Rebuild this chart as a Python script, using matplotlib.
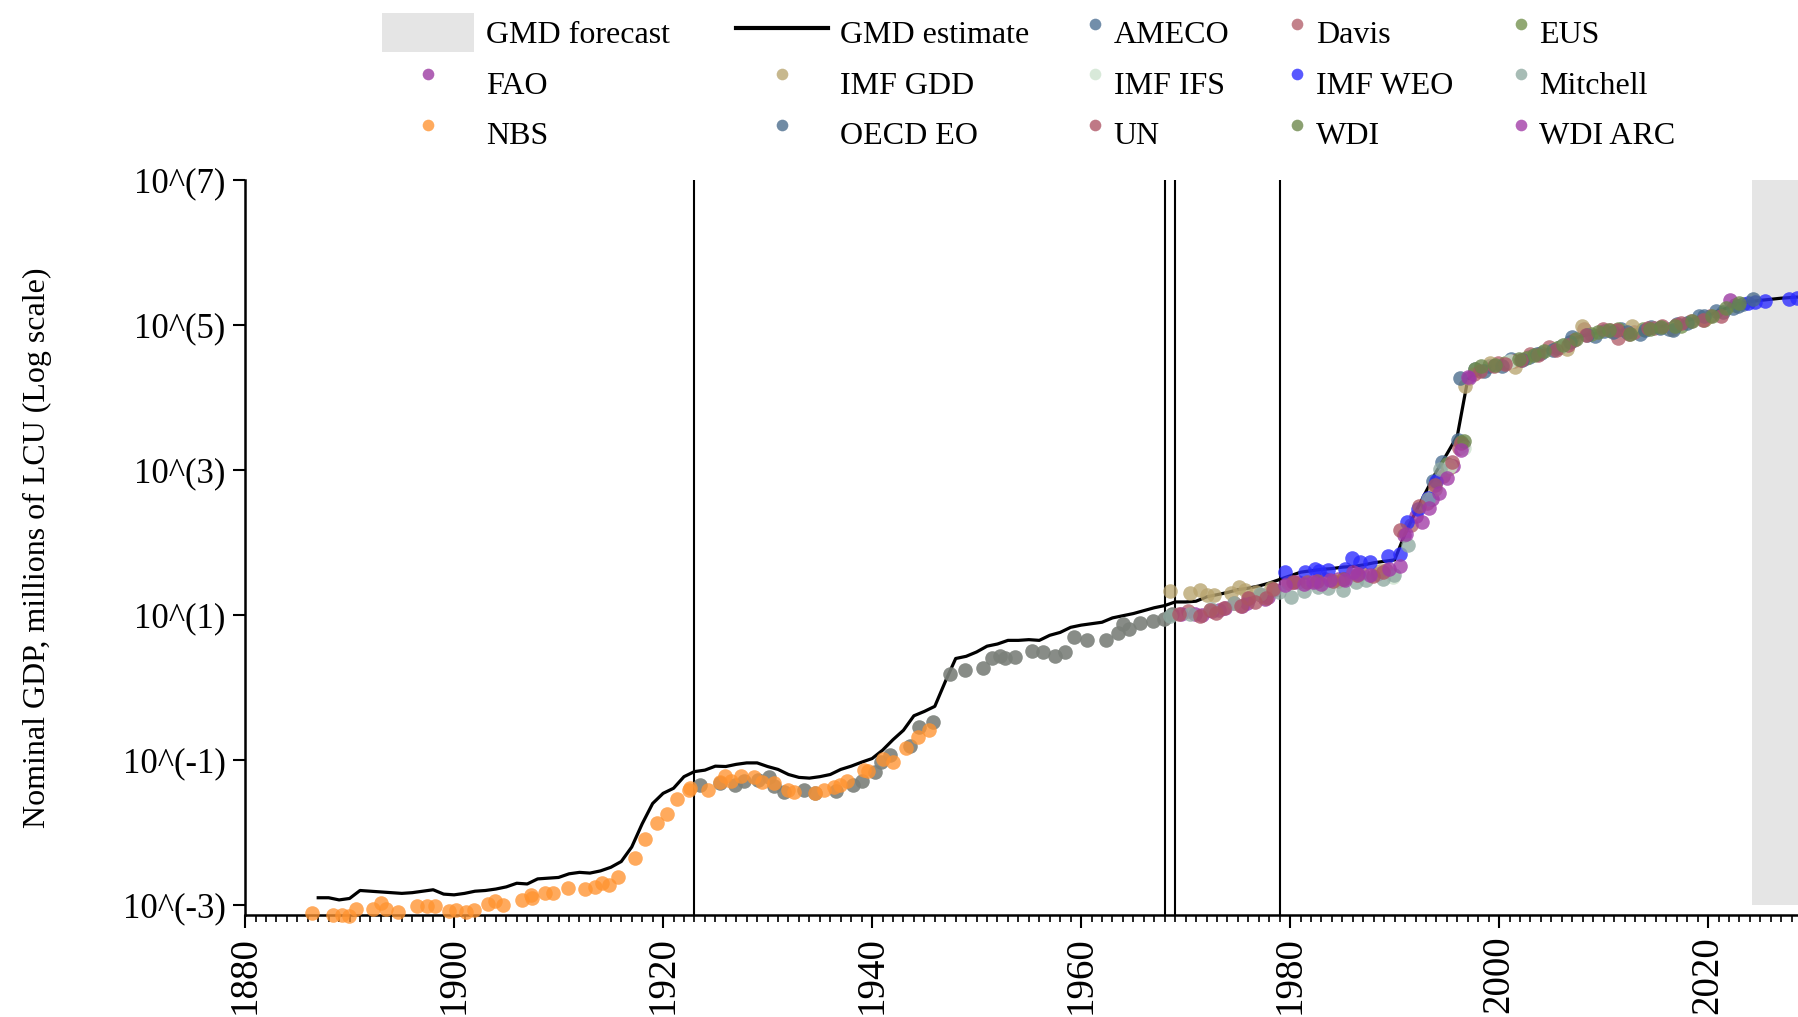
import matplotlib.pyplot as plt
import numpy as np
from matplotlib.patches import Patch
from matplotlib.lines import Line2D

plt.rcParams['font.family'] = ['Liberation Serif', 'DejaVu Serif']

# GMD estimate, log10 of nominal GDP (millions of LCU), from 1887 on
gmd_start = 1887
gmd_log = [-2.90, -2.90, -2.93, -2.91, -2.80, -2.81, -2.82, -2.83, -2.84, -2.83,
           -2.81, -2.79, -2.85, -2.86, -2.84, -2.81, -2.80, -2.78, -2.75, -2.70,
           -2.71, -2.64, -2.63, -2.62, -2.57, -2.55, -2.56, -2.53, -2.48, -2.40,
           -2.20, -1.88, -1.60, -1.46, -1.39, -1.23, -1.16, -1.14, -1.085, -1.09,
           -1.06, -1.04, -1.04, -1.09, -1.13, -1.20, -1.24, -1.25, -1.23, -1.20,
           -1.13, -1.085, -1.03, -0.98, -0.865, -0.72, -0.59, -0.39, -0.33, -0.26,
           0.08, 0.40, 0.43, 0.49, 0.57, 0.60, 0.65, 0.65, 0.66, 0.65,
           0.72, 0.76, 0.83, 0.86, 0.88, 0.90, 0.96, 0.99, 1.02, 1.06,
           1.10, 1.13, 1.18, 1.18, 1.19, 1.25, 1.28, 1.31, 1.35, 1.37,
           1.40, 1.44, 1.49, 1.54, 1.59, 1.61, 1.63, 1.64, 1.66, 1.67,
           1.69, 1.72, 1.74, 1.76, 2.12, 2.42, 2.70, 2.98, 3.22, 3.47,
           4.25, 4.39, 4.42, 4.46, 4.51, 4.55, 4.58, 4.64, 4.67, 4.74,
           4.81, 4.85, 4.88, 4.91, 4.92, 4.93, 4.93, 4.94, 4.97, 4.99,
           5.01, 5.06, 5.10, 5.12, 5.20, 5.24, 5.30, 5.32, 5.34, 5.355,
           5.37, 5.38, 5.39]
gmd_years = np.arange(gmd_start, gmd_start + len(gmd_log))

# source observations (year, log10 value)
nbs_x = [1886.4, 1888.4, 1889.25, 1889.9, 1890.6, 1892.2, 1893.0, 1893.5, 1894.6, 1896.5,
         1897.45, 1898.2, 1899.5, 1900.2, 1901.1, 1901.9, 1903.2, 1903.9, 1904.7, 1906.5,
         1907.4, 1907.5, 1908.7, 1909.5, 1910.9, 1912.5, 1913.5, 1914.2, 1914.8, 1915.7,
         1917.3, 1918.3, 1919.4, 1920.35, 1921.3, 1922.5, 1922.6, 1924.3, 1925.4, 1925.9,
         1926.5, 1927.5, 1928.7, 1929.5, 1930.6, 1932.0, 1932.5, 1934.5, 1935.4, 1936.4,
         1936.9, 1937.6, 1939.2, 1939.6, 1941.0, 1942.0, 1943.2, 1944.4, 1945.4]
nbs_log = [-3.115, -3.138, -3.138, -3.15, -3.06, -3.06, -2.97, -3.06, -3.09, -3.01,
           -3.01, -3.01, -3.08, -3.07, -3.09, -3.07, -2.98, -2.94, -3.00, -2.93,
           -2.86, -2.91, -2.84, -2.83, -2.77, -2.78, -2.75, -2.70, -2.72, -2.62,
           -2.35, -2.09, -1.87, -1.74, -1.54, -1.42, -1.39, -1.42, -1.30, -1.22,
           -1.29, -1.22, -1.23, -1.30, -1.32, -1.41, -1.44, -1.46, -1.42, -1.37,
           -1.35, -1.29, -1.14, -1.15, -0.99, -1.03, -0.84, -0.68, -0.59]

gray_x = [1923.5, 1925.45, 1926.9, 1927.7, 1929.1, 1930.1, 1930.6, 1931.6, 1933.5, 1934.5,
          1936.55, 1938.15, 1939.0, 1940.3, 1940.9, 1941.7, 1943.6, 1944.5, 1945.8, 1947.5,
          1948.9, 1950.6, 1951.5, 1952.2, 1952.7, 1953.7, 1955.3, 1956.4, 1957.5, 1958.5,
          1959.3, 1960.6, 1962.4, 1963.5, 1964.0, 1964.6, 1965.6, 1966.9, 1967.9, 1968.7]
gray_log = [-1.35, -1.32, -1.35, -1.29, -1.28, -1.23, -1.36, -1.44, -1.41, -1.45,
            -1.43, -1.35, -1.29, -1.16, -1.03, -0.93, -0.81, -0.54, -0.47, 0.19,
            0.24, 0.27, 0.40, 0.43, 0.40, 0.42, 0.50, 0.49, 0.44, 0.49,
            0.69, 0.66, 0.66, 0.75, 0.88, 0.80, 0.89, 0.92, 0.94, 1.01]

ameco_x = [1993.7, 1994.5, 1996.1, 1997.7, 1999.0, 2001.1, 2002.9, 2004.0, 2005.8, 2007.0,
           2009.2, 2010.0, 2011.7, 2013.5, 2014.5, 2016.3, 2017.0, 2019.1, 2020.8, 2022.4, 2023.3]
ameco_log = [2.85, 3.11, 3.41, 4.39, 4.43, 4.53, 4.56, 4.62, 4.70, 4.84,
             4.85, 4.92, 4.95, 4.88, 4.97, 4.94, 5.01, 5.12, 5.20, 5.23, 5.29]

davis_x = [1970.2, 1974.6, 1977.2, 1979.8, 1983.3, 1986.9, 1989.2, 1991.6, 1993.1, 1994.6,
           1996.2, 1997.6, 1999.9, 2001.4, 2003.0, 2004.8, 2007.2, 2008.1, 2010.6, 2011.4,
           2012.9, 2014.8, 2016.9, 2018.4, 2020.2]
davis_log = [1.05, 1.17, 1.27, 1.44, 1.50, 1.58, 1.62, 2.24, 2.55, 2.92,
             3.30, 4.33, 4.47, 4.50, 4.60, 4.69, 4.80, 4.94, 4.93, 4.82,
             4.90, 4.96, 5.00, 5.05, 5.12]

eus_x = [1995.0, 1996.4, 1997.7, 2000.6, 2002.6, 2005.5, 2008.8, 2011.4, 2013.8, 2017.4, 2019.6, 2022.6]
eus_log = [3.08, 3.38, 4.39, 4.48, 4.55, 4.68, 4.87, 4.94, 4.94, 4.98, 5.07, 5.28]

fao_x = [1969.6, 1970.9, 1971.6, 1972.5, 1973.2, 1973.8, 1975.4, 1975.9, 1976.1, 1977.6,
         1977.9, 1978.5, 1980.4, 1980.8, 1982.5, 1984.6, 1985.2, 1986.5, 1988.3, 1990.9,
         1992.0, 1993.6, 1995.6, 1996.5, 1997.1, 2022.1]
fao_log = [1.02, 1.02, 1.00, 1.06, 1.07, 1.09, 1.13, 1.16, 1.23, 1.22,
           1.25, 1.35, 1.45, 1.45, 1.46, 1.50, 1.49, 1.55, 1.57, 2.10,
           2.36, 2.60, 3.05, 3.35, 4.27, 5.34]

gdd_x = [1968.5, 1970.4, 1971.4, 1972.0, 1972.7, 1974.3, 1975.1, 1975.7, 1976.7, 1978.2,
         1984.6, 1988.6, 1993.9, 1995.1, 1996.75, 1999.1, 2001.5, 2006.5, 2007.9, 2012.7,
         2016.5, 2019.7]
gdd_log = [1.33, 1.30, 1.34, 1.27, 1.28, 1.30, 1.39, 1.35, 1.32, 1.37,
           1.47, 1.61, 2.74, 3.02, 4.16, 4.48, 4.42, 4.67, 4.98, 4.99,
           4.94, 5.08]

ifs_x = [1989.8, 1995.3, 1996.6, 2001.0, 2006.2]
ifs_log = [1.52, 3.05, 3.30, 4.50, 4.72]

weo_x = [1979.5, 1981.4, 1982.4, 1982.8, 1983.6, 1985.3, 1985.9, 1986.7, 1987.6, 1989.4,
         1990.5, 1991.2, 1992.2, 1993.2, 1994.0, 2023.8, 2024.5, 2025.4, 2027.7, 2028.5]
weo_log = [1.59, 1.59, 1.64, 1.61, 1.62, 1.64, 1.78, 1.73, 1.73, 1.82,
           1.84, 2.28, 2.46, 2.62, 2.85, 5.30, 5.32, 5.33, 5.36, 5.37]

mit_x = [1968.5, 1970.4, 1972.4, 1974.6, 1977.1, 1978.9, 1980.1, 1981.3, 1982.7, 1983.6,
         1985.1, 1986.3, 1987.3, 1988.9, 1989.9, 1991.3, 1993.2, 1994.3]
mit_log = [0.99, 1.02, 1.08, 1.16, 1.29, 1.32, 1.25, 1.33, 1.38, 1.375,
           1.35, 1.45, 1.48, 1.49, 1.55, 1.96, 2.60, 3.02]

oecd_x = [1996.3, 1998.6, 2000.3, 2002.2, 2003.6, 2005.2, 2006.8, 2008.4, 2010.9, 2012.2,
          2014.0, 2015.4, 2016.6, 2018.0, 2019.6, 2021.4, 2022.9, 2024.3]
oecd_log = [4.27, 4.37, 4.44, 4.52, 4.60, 4.66, 4.77, 4.86, 4.90, 4.90,
            4.93, 4.96, 4.93, 5.03, 5.13, 5.18, 5.26, 5.36]

un_x = [1969.4, 1971.4, 1972.3, 1972.9, 1973.7, 1975.3, 1976.0, 1976.6, 1977.7, 1978.4,
        1980.3, 1981.6, 1982.6, 1984.1, 1985.1, 1986.4, 1987.9, 1988.9, 1990.5, 1992.3,
        1993.9, 1995.5, 1996.4, 1998.2, 1999.5, 2000.6, 2002.1, 2003.7, 2005.4, 2006.6,
        2008.3, 2009.9, 2011.3, 2012.4, 2014.2, 2015.6, 2017.4, 2019.5, 2021.2]
un_log = [1.02, 0.99, 1.07, 1.03, 1.09, 1.13, 1.24, 1.18, 1.24, 1.36,
          1.45, 1.46, 1.47, 1.47, 1.49, 1.55, 1.54, 1.59, 2.17, 2.50,
          2.79, 3.11, 3.37, 4.37, 4.43, 4.46, 4.52, 4.58, 4.66, 4.73,
          4.86, 4.95, 4.93, 4.88, 4.96, 4.98, 5.03, 5.07, 5.13]

wdi_x = [1996.6, 1998.3, 1999.6, 2001.9, 2003.3, 2004.3, 2006.1, 2007.4, 2009.5, 2010.5,
         2012.5, 2014.4, 2015.5, 2016.8, 2018.5, 2020.4, 2021.7, 2023.0]
wdi_log = [3.40, 4.43, 4.45, 4.53, 4.59, 4.64, 4.72, 4.81, 4.90, 4.93,
           4.87, 4.95, 4.97, 4.98, 5.06, 5.13, 5.24, 5.30]

arc_x = [1979.5, 1981.3, 1982.2, 1983.0, 1983.8, 1985.3, 1986.0, 1986.5, 1987.6, 1989.5,
         1990.5, 1991.1, 1992.6, 1993.3, 1994.2, 1995.0, 1996.4, 1997.0]
arc_log = [1.41, 1.43, 1.45, 1.43, 1.48, 1.48, 1.59, 1.57, 1.55, 1.64,
           1.68, 2.12, 2.28, 2.48, 2.68, 2.89, 3.28, 4.28]

break_years = [1923, 1968, 1969, 1979]
forecast_start = 2024.2
x_end = 2028.6

fig = plt.figure(figsize=(17.98, 10.17), dpi=100)
ax = fig.add_axes([0.1363, 0.1003, 0.8637, 0.7227])
ax.set_yscale('log')

ax.fill_between([forecast_start, x_end], 1e-3, 1e7, color='#e5e5e5', lw=0, zorder=0)
for yr in break_years:
    ax.axvline(yr, color='black', lw=1.5, zorder=2)
ax.plot(gmd_years, 10 ** np.array(gmd_log), color='black', lw=2.3, zorder=2)

series = [
    ('AMECO', ameco_x, ameco_log, '#4a6e92'),
    ('Davis', davis_x, davis_log, '#b25f6a'),
    ('EUS', eus_x, eus_log, '#72904c'),
    ('FAO', fao_x, fao_log, '#9a36a0'),
    ('IMF GDD', gdd_x, gdd_log, '#b8a46f'),
    ('IMF IFS', ifs_x, ifs_log, '#cde4cf'),
    ('IMF WEO', weo_x, weo_log, '#2a2aff'),
    ('Mitchell', mit_x, mit_log, '#8fa9a1'),
    ('NBS', nbs_x, nbs_log, '#ff9330'),
    ('OECD EO', oecd_x, oecd_log, '#486a8b'),
    ('UN', un_x, un_log, '#ad5464'),
    ('WDI', wdi_x, wdi_log, '#6a8649'),
    ('WDI ARC', arc_x, arc_log, '#a03aa6'),
]

ax.scatter(gray_x, 10 ** np.array(gray_log), s=110, color='#7b807a', alpha=0.9,
           lw=0, zorder=3, clip_on=False)
handles = {}
for name, xs, ls, col in series:
    handles[name] = ax.scatter(xs, 10 ** np.array(ls), s=110, color=col, alpha=0.78,
                               lw=0, zorder=3, clip_on=False)

ax.set_xlim(1880, x_end)
ax.set_ylim(10 ** -3.138, 1e7)
ax.set_xticks(np.arange(1880, 2021, 20))
ax.set_xticks(np.arange(1880, 2029, 1), minor=True)
ax.set_xticklabels([str(v) for v in range(1880, 2021, 20)], rotation=90, fontsize=28)
yt = [-3, -1, 1, 3, 5, 7]
ax.set_yticks([10.0 ** v for v in yt])
ax.set_yticklabels(['10^(%d)' % v for v in yt], fontsize=25)
ax.yaxis.set_minor_locator(plt.NullLocator())
ax.tick_params(axis='x', which='major', length=9, width=1.5, pad=6)
ax.tick_params(axis='x', which='minor', length=5, width=1.2)
ax.tick_params(axis='y', which='major', length=9, width=1.5, pad=5)

for side in ['top', 'right']:
    ax.spines[side].set_visible(False)
for side in ['left', 'bottom']:
    ax.spines[side].set_linewidth(1.8)

ax.set_ylabel('Nominal GDP, millions of LCU (Log scale)', fontsize=23)
ax.yaxis.set_label_coords(-0.1243, 0.5)

forecast_patch = Patch(facecolor='#e5e5e5', edgecolor='none')
gmd_line = Line2D([], [], color='black', lw=3)

leg_a = fig.legend([forecast_patch, handles['FAO'], handles['NBS'],
                    gmd_line, handles['IMF GDD'], handles['OECD EO']],
                   ['GMD forecast', 'FAO', 'NBS', 'GMD estimate', 'IMF GDD', 'OECD EO'],
                   loc='upper left', bbox_to_anchor=(0.2125, 0.987), ncol=2,
                   frameon=False, borderpad=0, borderaxespad=0, fontsize=23,
                   handlelength=2.87, handleheight=1.5, handletextpad=0.375,
                   columnspacing=2.07, labelspacing=0.36, scatteryoffsets=[0.5],
                   markerscale=0.8)
leg_b = fig.legend([handles['AMECO'], handles['IMF IFS'], handles['UN'],
                    handles['Davis'], handles['IMF WEO'], handles['WDI'],
                    handles['EUS'], handles['Mitchell'], handles['WDI ARC']],
                   ['AMECO', 'IMF IFS', 'UN', 'Davis', 'IMF WEO', 'WDI',
                    'EUS', 'Mitchell', 'WDI ARC'],
                   loc='upper left', bbox_to_anchor=(0.6037, 0.987), ncol=3,
                   frameon=False, borderpad=0, borderaxespad=0, fontsize=23,
                   handlelength=0.6, handleheight=1.5, handletextpad=0.28,
                   columnspacing=1.82, labelspacing=0.36, scatteryoffsets=[0.5],
                   markerscale=0.8)

fig.savefig('out.png', dpi=100)
